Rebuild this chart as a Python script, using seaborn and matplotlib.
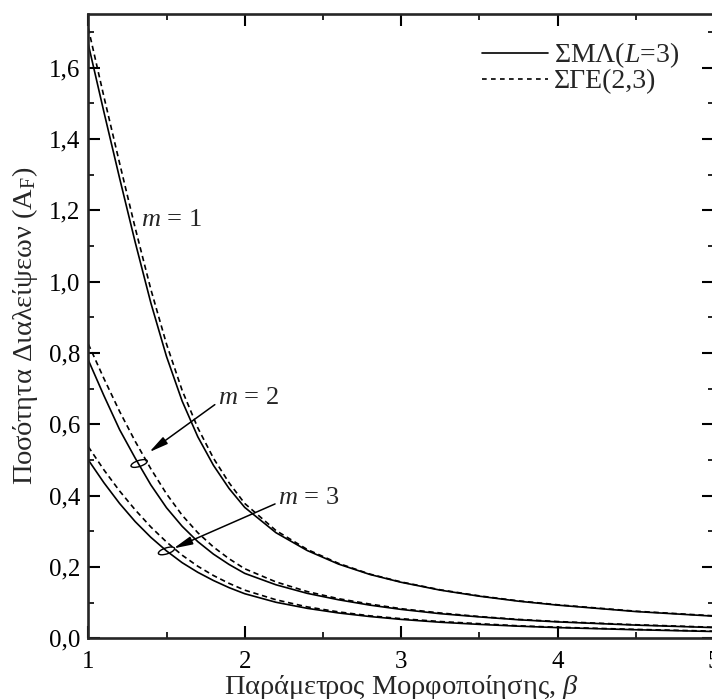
import numpy as np
import pandas as pd
import seaborn as sns
import matplotlib
matplotlib.use("Agg")
import matplotlib.pyplot as plt
from matplotlib.lines import Line2D
from matplotlib.patches import Ellipse
from matplotlib.transforms import ScaledTranslation
from matplotlib.ticker import MultipleLocator, FuncFormatter

# ---------------- data ----------------
beta = [1.0, 1.1, 1.2, 1.3, 1.4, 1.5, 1.6, 1.7, 1.8, 1.9, 2.0,
        2.2, 2.4, 2.6, 2.8, 3.0, 3.25, 3.5, 3.75, 4.0, 4.5, 5.0]

sml_m1 = [1.665, 1.475, 1.290, 1.110, 0.940, 0.790, 0.665, 0.565, 0.485, 0.420, 0.367,
          0.296, 0.246, 0.208, 0.179, 0.157, 0.135, 0.118, 0.104, 0.093, 0.075, 0.062]
sge_m1 = [1.710, 1.518, 1.332, 1.150, 0.978, 0.825, 0.695, 0.590, 0.505, 0.436, 0.378,
          0.302, 0.249, 0.210, 0.180, 0.158, 0.136, 0.119, 0.105, 0.094, 0.076, 0.063]

sml_m2 = [0.780, 0.680, 0.585, 0.505, 0.430, 0.366, 0.314, 0.271, 0.236, 0.207, 0.182,
          0.150, 0.126, 0.108, 0.093, 0.081, 0.069, 0.060, 0.052, 0.046, 0.037, 0.030]
sge_m2 = [0.825, 0.728, 0.636, 0.552, 0.475, 0.405, 0.345, 0.296, 0.256, 0.223, 0.195,
          0.158, 0.131, 0.111, 0.096, 0.083, 0.071, 0.061, 0.053, 0.047, 0.038, 0.031]

sml_m3 = [0.500, 0.436, 0.378, 0.327, 0.283, 0.245, 0.212, 0.185, 0.162, 0.142, 0.125,
          0.101, 0.084, 0.071, 0.061, 0.053, 0.045, 0.039, 0.034, 0.030, 0.024, 0.019]
sge_m3 = [0.537, 0.472, 0.413, 0.360, 0.312, 0.270, 0.233, 0.202, 0.176, 0.154, 0.135,
          0.108, 0.088, 0.074, 0.063, 0.055, 0.047, 0.041, 0.035, 0.031, 0.025, 0.020]

methods = ["ΣΜΛ(L=3)", "ΣΓΕ(2,3)"]
legend_labels = ["ΣΜΛ($\\mathit{L}$=3)", "ΣΓΕ(2,3)"]
y_ticks = [0.0, 0.2, 0.4, 0.6, 0.8, 1.0, 1.2, 1.4, 1.6]
x_ticks = [1, 2, 3, 4, 5]

series = {
    (1, methods[0]): sml_m1, (1, methods[1]): sge_m1,
    (2, methods[0]): sml_m2, (2, methods[1]): sge_m2,
    (3, methods[0]): sml_m3, (3, methods[1]): sge_m3,
}
rows = []
for (m, meth), vals in series.items():
    for b, v in zip(beta, vals):
        rows.append({"beta": b, "AF": v, "m": m, "method": meth})
df = pd.DataFrame(rows)

# ---------------- style ----------------
sns.set_theme(style="ticks")
plt.rcParams["font.family"] = ["Liberation Serif", "DejaVu Serif"]
plt.rcParams["mathtext.fontset"] = "custom"
plt.rcParams["mathtext.rm"] = "Liberation Serif"
plt.rcParams["mathtext.it"] = "Liberation Serif:italic"
plt.rcParams["mathtext.bf"] = "Liberation Serif:bold"

fig = plt.figure(figsize=(7.12, 6.99), dpi=100)
ax = fig.add_axes([88.3 / 712, 1 - 638.3 / 699, (713.9 - 88.3) / 712, (638.3 - 14) / 699])

dash = (3.2, 2.2)
sns.lineplot(data=df, x="beta", y="AF", hue="m", style="method",
             palette=["black", "black", "black"],
             dashes={methods[0]: "", methods[1]: dash},
             estimator=None, sort=True, legend=False, lw=1.2, ax=ax)

ax.set_xlim(1, 5)
ax.set_ylim(0, 1.75)
ax.set_xticks(x_ticks)
ax.set_yticks(y_ticks)
ax.xaxis.set_minor_locator(MultipleLocator(0.5))
ax.yaxis.set_minor_locator(MultipleLocator(0.1))
ax.yaxis.set_major_formatter(FuncFormatter(lambda v, p: f"{v:.1f}".replace(".", ",")))
ax.xaxis.set_major_formatter(FuncFormatter(lambda v, p: f"{v:g}"))

for s in ax.spines.values():
    s.set_linewidth(1.9)
    s.set_visible(True)
ax.tick_params(which="both", direction="in", top=True, right=True, colors="black",
               labelsize=18)
ax.tick_params(which="major", length=8.5, width=1.5, pad=6)
ax.tick_params(which="minor", length=4.5, width=1.2)
ax.tick_params(axis="x", which="major", pad=9)

ax.set_xlabel("Παράμετρος Μορφοποίησης, $\\beta$", fontsize=20.5, labelpad=0)
ax.set_ylabel("Ποσότητα Διαλείψεων (A$_\\mathrm{F}$)", fontsize=20.5, labelpad=6)

handles = [Line2D([], [], color="black", lw=1.2, linestyle="-"),
           Line2D([], [], color="black", lw=1.2, linestyle=(0, (2.8, 2.6)))]
ax.legend(handles, legend_labels, loc="upper right", frameon=False, fontsize=20,
          handlelength=2.4, handletextpad=0.2, labelspacing=-0.05,
          borderaxespad=0.0, bbox_to_anchor=(0.962, 0.975))

# annotations
ax.text(1.337, 1.173, "$m$ = 1", fontsize=19, va="center", ha="left")
arrow = dict(arrowstyle="-|>,head_length=0.6,head_width=0.13", color="black",
             lw=1.1, shrinkA=0, shrinkB=0)
ax.annotate("$m$ = 2", xy=(1.39, 0.522), xytext=(1.83, 0.674), fontsize=19,
            va="center", ha="left", arrowprops=dict(arrow, relpos=(0.0, 0.3)))
ax.annotate("$m$ = 3", xy=(1.545, 0.252), xytext=(2.215, 0.393), fontsize=19,
            va="center", ha="left", arrowprops=dict(arrow, relpos=(0.0, 0.3)))

for cx, cy in [(1.325, 0.49), (1.50, 0.245)]:
    e = Ellipse((0, 0), 0.17, 0.06, angle=18, fill=False, lw=1.0, ec="black",
                transform=fig.dpi_scale_trans + ScaledTranslation(cx, cy, ax.transData))
    ax.add_artist(e)

fig.savefig("out.png", dpi=100)
